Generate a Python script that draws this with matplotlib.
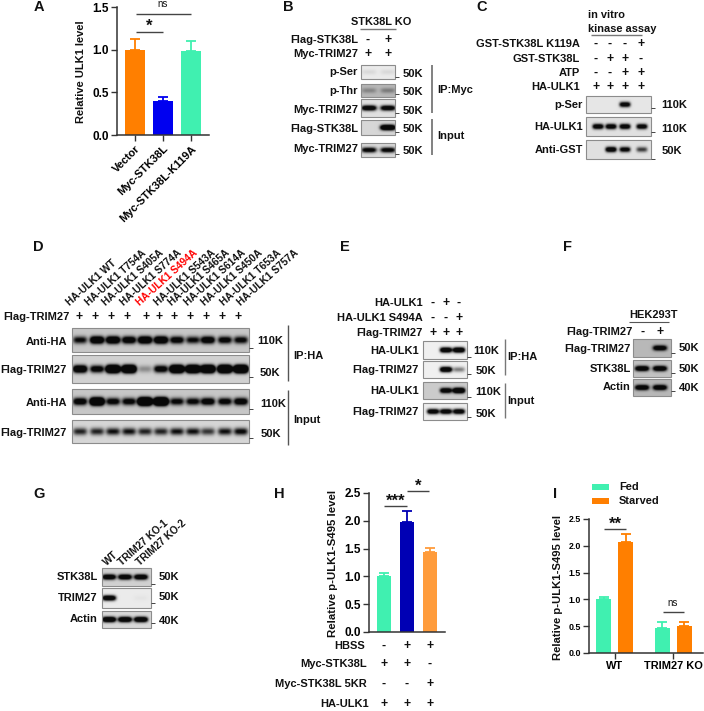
# -*- coding: utf-8 -*-
"""Multi panel figure: western blots and bar charts for ULK1 / STK38L / TRIM27."""

import numpy as np
import matplotlib
matplotlib.use('Agg')
import matplotlib.pyplot as plt
from matplotlib.patches import Rectangle

plt.rcParams['font.family'] = ['Liberation Sans', 'DejaVu Sans']
plt.rcParams['font.weight'] = 'bold'

W, H = 704, 711
ORANGE = '#ff7f00'
BLUE = '#0000f0'
NAVY = '#0000b4'
TEAL = '#40f0b0'
LIGHT_ORANGE = '#ff9c3c'

# bar data
a_names = ['Vector', 'Myc-STK38L', 'Myc-STK38L-K119A']
a_values = [1.0, 0.40, 0.99]
a_tops = [1.13, 0.45, 1.10]

h_values = [1.0, 1.98, 1.43]
h_tops = [1.06, 2.18, 1.51]
h_rows = ['HBSS', 'Myc-STK38L', 'Myc-STK38L 5KR', 'HA-ULK1']
h_signs = [['-', '+', '+'], ['+', '+', '-'], ['-', '-', '+'], ['+', '+', '+']]

i_groups = ['WT', 'TRIM27 KO']
i_fed = [1.0, 0.47]
i_fed_tops = [1.05, 0.57]
i_starved = [2.08, 0.50]
i_starved_tops = [2.22, 0.58]

# blot band strengths, 0 = nothing, above 1 = saturated and fat
b_labels = ['p-Ser', 'p-Thr', 'Myc-TRIM27', 'Flag-STK38L', 'Myc-TRIM27']
b_bands = [[0.08, 0.08], [0.3, 0.35], [1.6, 1.5], [0, 2.2], [1.3, 1.3]]
b_sizes = ['50K', '50K', '50K', '50K', '50K']
b_rows = ['Flag-STK38L', 'Myc-TRIM27']
b_signs = [['-', '+'], ['+', '+']]

c_labels = ['p-Ser', 'HA-ULK1', 'Anti-GST']
c_bands = [[0, 0, 1.4, 0], [1.5, 1.5, 1.5, 1.4], [0, 1.6, 1.3, 0.8]]
c_sizes = ['110K', '110K', '50K']
c_rows = ['GST-STK38L K119A', 'GST-STK38L', 'ATP', 'HA-ULK1']
c_signs = [['-', '-', '-', '+'], ['-', '+', '+', '-'],
           ['-', '-', '+', '+'], ['+', '+', '+', '+']]

d_names = ['HA-ULK1 WT', 'HA-ULK1 T754A', 'HA-ULK1 S405A', 'HA-ULK1 S774A',
           'HA-ULK1 S494A', 'HA-ULK1 S543A', 'HA-ULK1 S465A', 'HA-ULK1 S614A',
           'HA-ULK1 S450A', 'HA-ULK1 T653A', 'HA-ULK1 S757A']
d_labels = ['Anti-HA', 'Flag-TRIM27', 'Anti-HA', 'Flag-TRIM27']
d_bands = [[1.1, 2.0, 2.0, 1.6, 2.0, 2.0, 1.4, 1.1, 1.6, 1.3, 1.2],
           [2.0, 1.4, 3.2, 3.2, 0.35, 1.4, 3.2, 3.2, 3.2, 3.4, 3.4],
           [1.5, 3.2, 1.3, 1.3, 3.8, 3.8, 1.2, 1.2, 1.5, 1.3, 1.5],
           [0.9, 0.9, 1.0, 1.0, 0.9, 0.9, 1.0, 1.0, 0.8, 1.0, 1.1]]
d_sizes = ['110K', '50K', '110K', '50K']

e_labels = ['HA-ULK1', 'Flag-TRIM27', 'HA-ULK1', 'Flag-TRIM27']
e_bands = [[0, 1.7, 1.8], [0, 1.8, 0.5], [0, 1.6, 2.2], [1.5, 1.5, 1.5]]
e_sizes = ['110K', '50K', '110K', '50K']
e_rows = ['HA-ULK1', 'HA-ULK1 S494A', 'Flag-TRIM27']
e_signs = [['-', '+', '-'], ['-', '-', '+'], ['+', '+', '+']]

f_labels = ['Flag-TRIM27', 'STK38L', 'Actin']
f_bands = [[0, 1.6], [1.7, 1.7], [1.7, 1.7]]
f_sizes = ['50K', '50K', '40K']

g_names = ['WT', 'TRIM27 KO-1', 'TRIM27 KO-2']
g_labels = ['STK38L', 'TRIM27', 'Actin']
g_bands = [[1.7, 1.7, 1.7], [1.7, 0, 0.03], [2.0, 1.9, 1.9]]
g_sizes = ['50K', '50K', '40K']

fig = plt.figure(figsize=(W / 100, H / 100), dpi=100)

# whole figure axes in pixels, for the blots and all loose text
canvas = fig.add_axes([0, 0, 1, 1], zorder=5)
canvas.set_xlim(0, W)
canvas.set_ylim(H, 0)
canvas.axis('off')
canvas.patch.set_alpha(0)


def say(x, y, s, ha='right', size=8.0, **kw):
    canvas.text(x, y, s, ha=ha, va='center', fontsize=size, color='#111111', **kw)


def rule(x0, y0, x1, y1, color='#444444', lw=1.0):
    canvas.plot([x0, x1], [y0, y1], color=color, lw=lw, solid_capstyle='butt')


def blot(x0, y0, x1, y1, lanes, bands, bg=0.85, band_w=6.5, band_h=2.6, cy=0.5):
    xs = np.linspace(x0, x1, int((x1 - x0) * 4))
    ys = np.linspace(y0, y1, int((y1 - y0) * 4))
    yc = y0 + (y1 - y0) * cy
    dark = np.zeros((len(ys), len(xs)))
    for lx, level in zip(lanes, bands):
        across = np.exp(-((xs - lx) / band_w) ** 4)
        down = np.exp(-((ys - yc) / band_h) ** 2)
        dark += level * np.outer(down, across)
    img = bg * (1 - 0.96 * np.clip(dark, 0, 1))
    canvas.imshow(img, extent=(x0, x1, y1, y0), cmap='gray', vmin=0, vmax=1,
                  aspect='auto', interpolation='bilinear')
    canvas.add_patch(Rectangle((x0, y0), x1 - x0, y1 - y0, fill=False,
                               ec='#8c8c8c', lw=0.8))


def signs(rows, ys, lanes, label_x, size=8.0):
    for row, y, marks in zip(rows[0], ys, rows[1]):
        say(label_x, y, row, size=size)
        for lx, m in zip(lanes, marks):
            say(lx, y, m, ha='center', size=size + 0.8)


def blot_panel(boxes, lanes, bands, labels, label_ys, label_x, sizes, size_x, size_ys,
               tick_ys, bgs, band_w=6.5, band_h=2.6):
    for box, b, bg in zip(boxes, bands, bgs):
        blot(box[0], box[1], box[2], box[3], lanes, b, bg=bg, band_w=band_w, band_h=band_h)
    for lab, y in zip(labels, label_ys):
        say(label_x, y, lab)
    right = boxes[0][2]
    for s, sx, y, ty in zip(sizes, size_x, size_ys, tick_ys):
        say(sx, y, s, ha='left')
        rule(right, ty, right + 4, ty, lw=0.7)


def bar_axes(x0, x1, y_top, y_bot):
    ax = fig.add_axes([x0 / W, 1 - y_bot / H, (x1 - x0) / W, (y_bot - y_top) / H])
    ax.patch.set_alpha(0)
    for side in ('top', 'right'):
        ax.spines[side].set_visible(False)
    for side in ('left', 'bottom'):
        ax.spines[side].set_color('#333333')
        ax.spines[side].set_linewidth(1.1)
    ax.tick_params(color='#333333', width=1.0, length=4, pad=2)
    return ax


def bars(ax, xs, values, tops, colors, width, cap=3.5):
    ax.bar(xs, values, width=width, color=colors)
    for x, v, t, c in zip(xs, values, tops, colors):
        ax.errorbar(x, v, yerr=[[0], [t - v]], ecolor=c, elinewidth=1.3,
                    capsize=cap, capthick=1.3, fmt='none')


# panel letters
for letter, lx, ly in [('A', 39, 7), ('B', 288, 7), ('C', 482, 7), ('D', 38, 247),
                       ('E', 345, 247), ('F', 568, 247), ('G', 39, 494),
                       ('H', 279, 494), ('I', 555, 494)]:
    say(lx, ly, letter, ha='center', size=10.5)

# A
ax_a = bar_axes(117, 209, 7, 135)
bars(ax_a, [0, 1, 2], a_values, a_tops, [ORANGE, BLUE, TEAL], 0.68)
ax_a.set_xlim(-0.643, 2.643)
ax_a.set_ylim(0, 1.5)
ax_a.set_yticks([0, 0.5, 1.0, 1.5])
ax_a.set_yticklabels(['0.0', '0.5', '1.0', '1.5'], fontsize=8.5)
ax_a.set_xticks([0, 1, 2])
ax_a.set_xticklabels(a_names, rotation=45, ha='right', rotation_mode='anchor', fontsize=7.9)
say(81, 72, 'Relative ULK1 level', ha='center', size=8.0, rotation=90)
rule(136, 14, 191, 14)
say(163, 4, 'ns', ha='center', size=7, fontweight='normal')
rule(136, 32, 163, 32)
say(149, 26, '*', ha='center', size=12)

# B
b_lanes = [368, 388]
say(381, 22, 'STK38L KO', ha='center', size=7.9)
rule(360, 29, 396, 29, color='#777777', lw=1.0)
signs((b_rows, b_signs), [40, 54], b_lanes, 358)
blot_panel([(361, 65, 395, 79), (361, 84, 395, 97), (361, 99, 395, 117),
            (361, 120, 395, 135), (361, 143, 395, 157)],
           [369, 388], b_bands, b_labels, [72, 91, 110, 129, 149], 358,
           b_sizes, [403] * 5, [74, 92, 111, 129, 151], [77, 94, 113, 132, 154],
           [0.92, 0.72, 0.88, 0.84, 0.86], band_w=7.5)
rule(432, 65, 432, 113, color='#777777', lw=1.3)
rule(432, 119, 432, 155, color='#777777', lw=1.3)
say(437, 90, 'IP:Myc', ha='left')
say(437, 136, 'Input', ha='left')

# C
c_lanes = [596, 610, 625, 641]
say(588, 15, 'in vitro', ha='left', size=7.9)
say(588, 29, 'kinase assay', ha='left', size=7.9)
rule(591, 35, 642, 35, color='#777777', lw=1.0)
signs((c_rows, c_signs), [44, 59, 73, 87], c_lanes, 580)
blot_panel([(586, 96, 651, 113), (586, 117, 651, 136), (586, 140, 651, 159)],
           [598, 611, 625, 642], c_bands, c_labels, [105, 127, 150], 583,
           c_sizes, [661, 661, 662], [105, 129, 151], [108, 132, 159],
           [0.90, 0.88, 0.88], band_w=5.5)

# D
d_starts = [68, 87, 104, 122, 138, 156, 170, 186, 203, 222, 239]
d_plus = [79, 95, 111, 127, 146, 159, 174, 190, 206, 222, 238]
d_lanes = [80, 97, 113, 129, 145, 161, 177, 193, 208, 225, 241]
for name, sx in zip(d_names, d_starts):
    canvas.text(sx, 304, name, rotation=42, rotation_mode='anchor', ha='left', va='center',
                fontsize=7.3,
                color='#ff0000' if name.endswith('S494A') else '#111111')
signs((['Flag-TRIM27'], [['+'] * 11]), [317], d_plus, 70)
blot_panel([(72, 328, 249, 352), (72, 355, 249, 383), (72, 389, 249, 414), (72, 420, 249, 443)],
           d_lanes, d_bands, d_labels, [342, 370, 403, 433], 67,
           d_sizes, [257, 260, 260, 261], [341, 373, 404, 434], [348, 377, 409, 438],
           [0.78, 0.82, 0.78, 0.84], band_w=7.0, band_h=3.6)
rule(288, 325, 288, 381, color='#555555', lw=1.0)
rule(288, 390, 288, 445, color='#555555', lw=1.0)
say(293, 356, 'IP:HA', ha='left')
say(293, 420, 'Input', ha='left')

# E
signs((e_rows, e_signs), [303, 318, 333], [433, 446, 459], 423)
blot_panel([(423, 341, 467, 359), (423, 361, 467, 378), (423, 382, 467, 399), (423, 403, 467, 420)],
           [433, 446, 459], e_bands, e_labels, [351, 370, 391, 412], 419,
           e_sizes, [473, 476, 475, 476], [351, 371, 392, 414], [357, 374, 397, 417],
           [0.94, 0.94, 0.80, 0.93], band_w=6.0)
rule(505, 339, 505, 375, color='#777777', lw=1.0)
rule(505, 383, 505, 418, color='#777777', lw=1.0)
say(507, 357, 'IP:HA', ha='left')
say(507, 401, 'Input', ha='left')

# F
say(653, 315, 'HEK293T', ha='center', size=7.9)
rule(629, 322, 669, 322, color='#555555', lw=0.8)
signs((['Flag-TRIM27'], [['-', '+']]), [332], [643, 660], 633)
blot_panel([(633, 339, 671, 357), (633, 360, 671, 377), (633, 379, 671, 396)],
           [642, 660], f_bands, f_labels, [349, 369, 387], 631,
           f_sizes, [679] * 3, [348, 369, 388], [353, 373, 391],
           [0.72, 0.76, 0.72], band_w=7.0)

# G
for name, sx in zip(g_names, [105, 120, 138]):
    canvas.text(sx, 564, name, rotation=42, rotation_mode='anchor', ha='left', va='center',
                fontsize=7.3, color='#111111')
blot_panel([(102, 568, 151, 586), (102, 588, 151, 608), (102, 611, 151, 628)],
           [109, 125, 141], g_bands, g_labels, [577, 598, 619], 98,
           g_sizes, [159] * 3, [577, 597, 621], [584, 603, 623],
           [0.82, 0.92, 0.85], band_w=6.8)

# H
ax_h = bar_axes(369, 445, 493, 632)
bars(ax_h, [0, 1, 2], h_values, h_tops, [TEAL, NAVY, LIGHT_ORANGE], 0.65)
ax_h.set_xlim(-0.652, 2.652)
ax_h.set_ylim(0, 2.5)
ax_h.set_yticks([0, 0.5, 1.0, 1.5, 2.0, 2.5])
ax_h.set_yticklabels(['0.0', '0.5', '1.0', '1.5', '2.0', '2.5'], fontsize=8.5)
ax_h.set_xticks([])
say(333, 563, 'Relative p-ULK1-S495 level', ha='center', size=8.2, rotation=90)
rule(384, 506, 407, 506)
say(396, 501, '***', ha='center', size=12)
rule(407, 491, 429, 491)
say(418, 486, '*', ha='center', size=12)
signs((h_rows[:1], h_signs[:1]), [646], [384, 407, 430], 365)
signs((h_rows[1:3], h_signs[1:3]), [664, 684], [384, 407, 430], 367)
signs((h_rows[3:], h_signs[3:]), [704], [384, 407, 430], 369)

# I
ax_i = bar_axes(589, 703, 519, 653)
i_x = np.array([0, 2.64])
bars(ax_i, i_x, i_fed, i_fed_tops, [TEAL, TEAL], 0.68)
bars(ax_i, i_x + 1, i_starved, i_starved_tops, [ORANGE, ORANGE], 0.68)
ax_i.set_xlim(-0.68, 4.5)
ax_i.set_ylim(0, 2.5)
ax_i.set_yticks([0, 0.5, 1.0, 1.5, 2.0, 2.5])
ax_i.set_yticklabels(['0.0', '0.5', '1.0', '1.5', '2.0', '2.5'], fontsize=6.4)
ax_i.set_xticks(i_x + 0.5)
ax_i.set_xticklabels(i_groups, fontsize=7.9)
say(558, 587, 'Relative p-ULK1-S495 level', ha='center', size=8.1, rotation=90)
rule(604, 529, 626, 529)
say(615, 524, '**', ha='center', size=12)
rule(663, 612, 684, 612)
say(673, 603, 'ns', ha='center', size=7, fontweight='normal')
canvas.add_patch(Rectangle((592, 484), 17, 6, color=TEAL, lw=0))
canvas.add_patch(Rectangle((592, 498), 17, 6, color=ORANGE, lw=0))
say(619, 487, 'Fed', ha='left', size=7.9)
say(619, 501, 'Starved', ha='left', size=7.9)

canvas.set_xlim(0, W)
canvas.set_ylim(H, 0)
fig.savefig('out.png', dpi=100)
